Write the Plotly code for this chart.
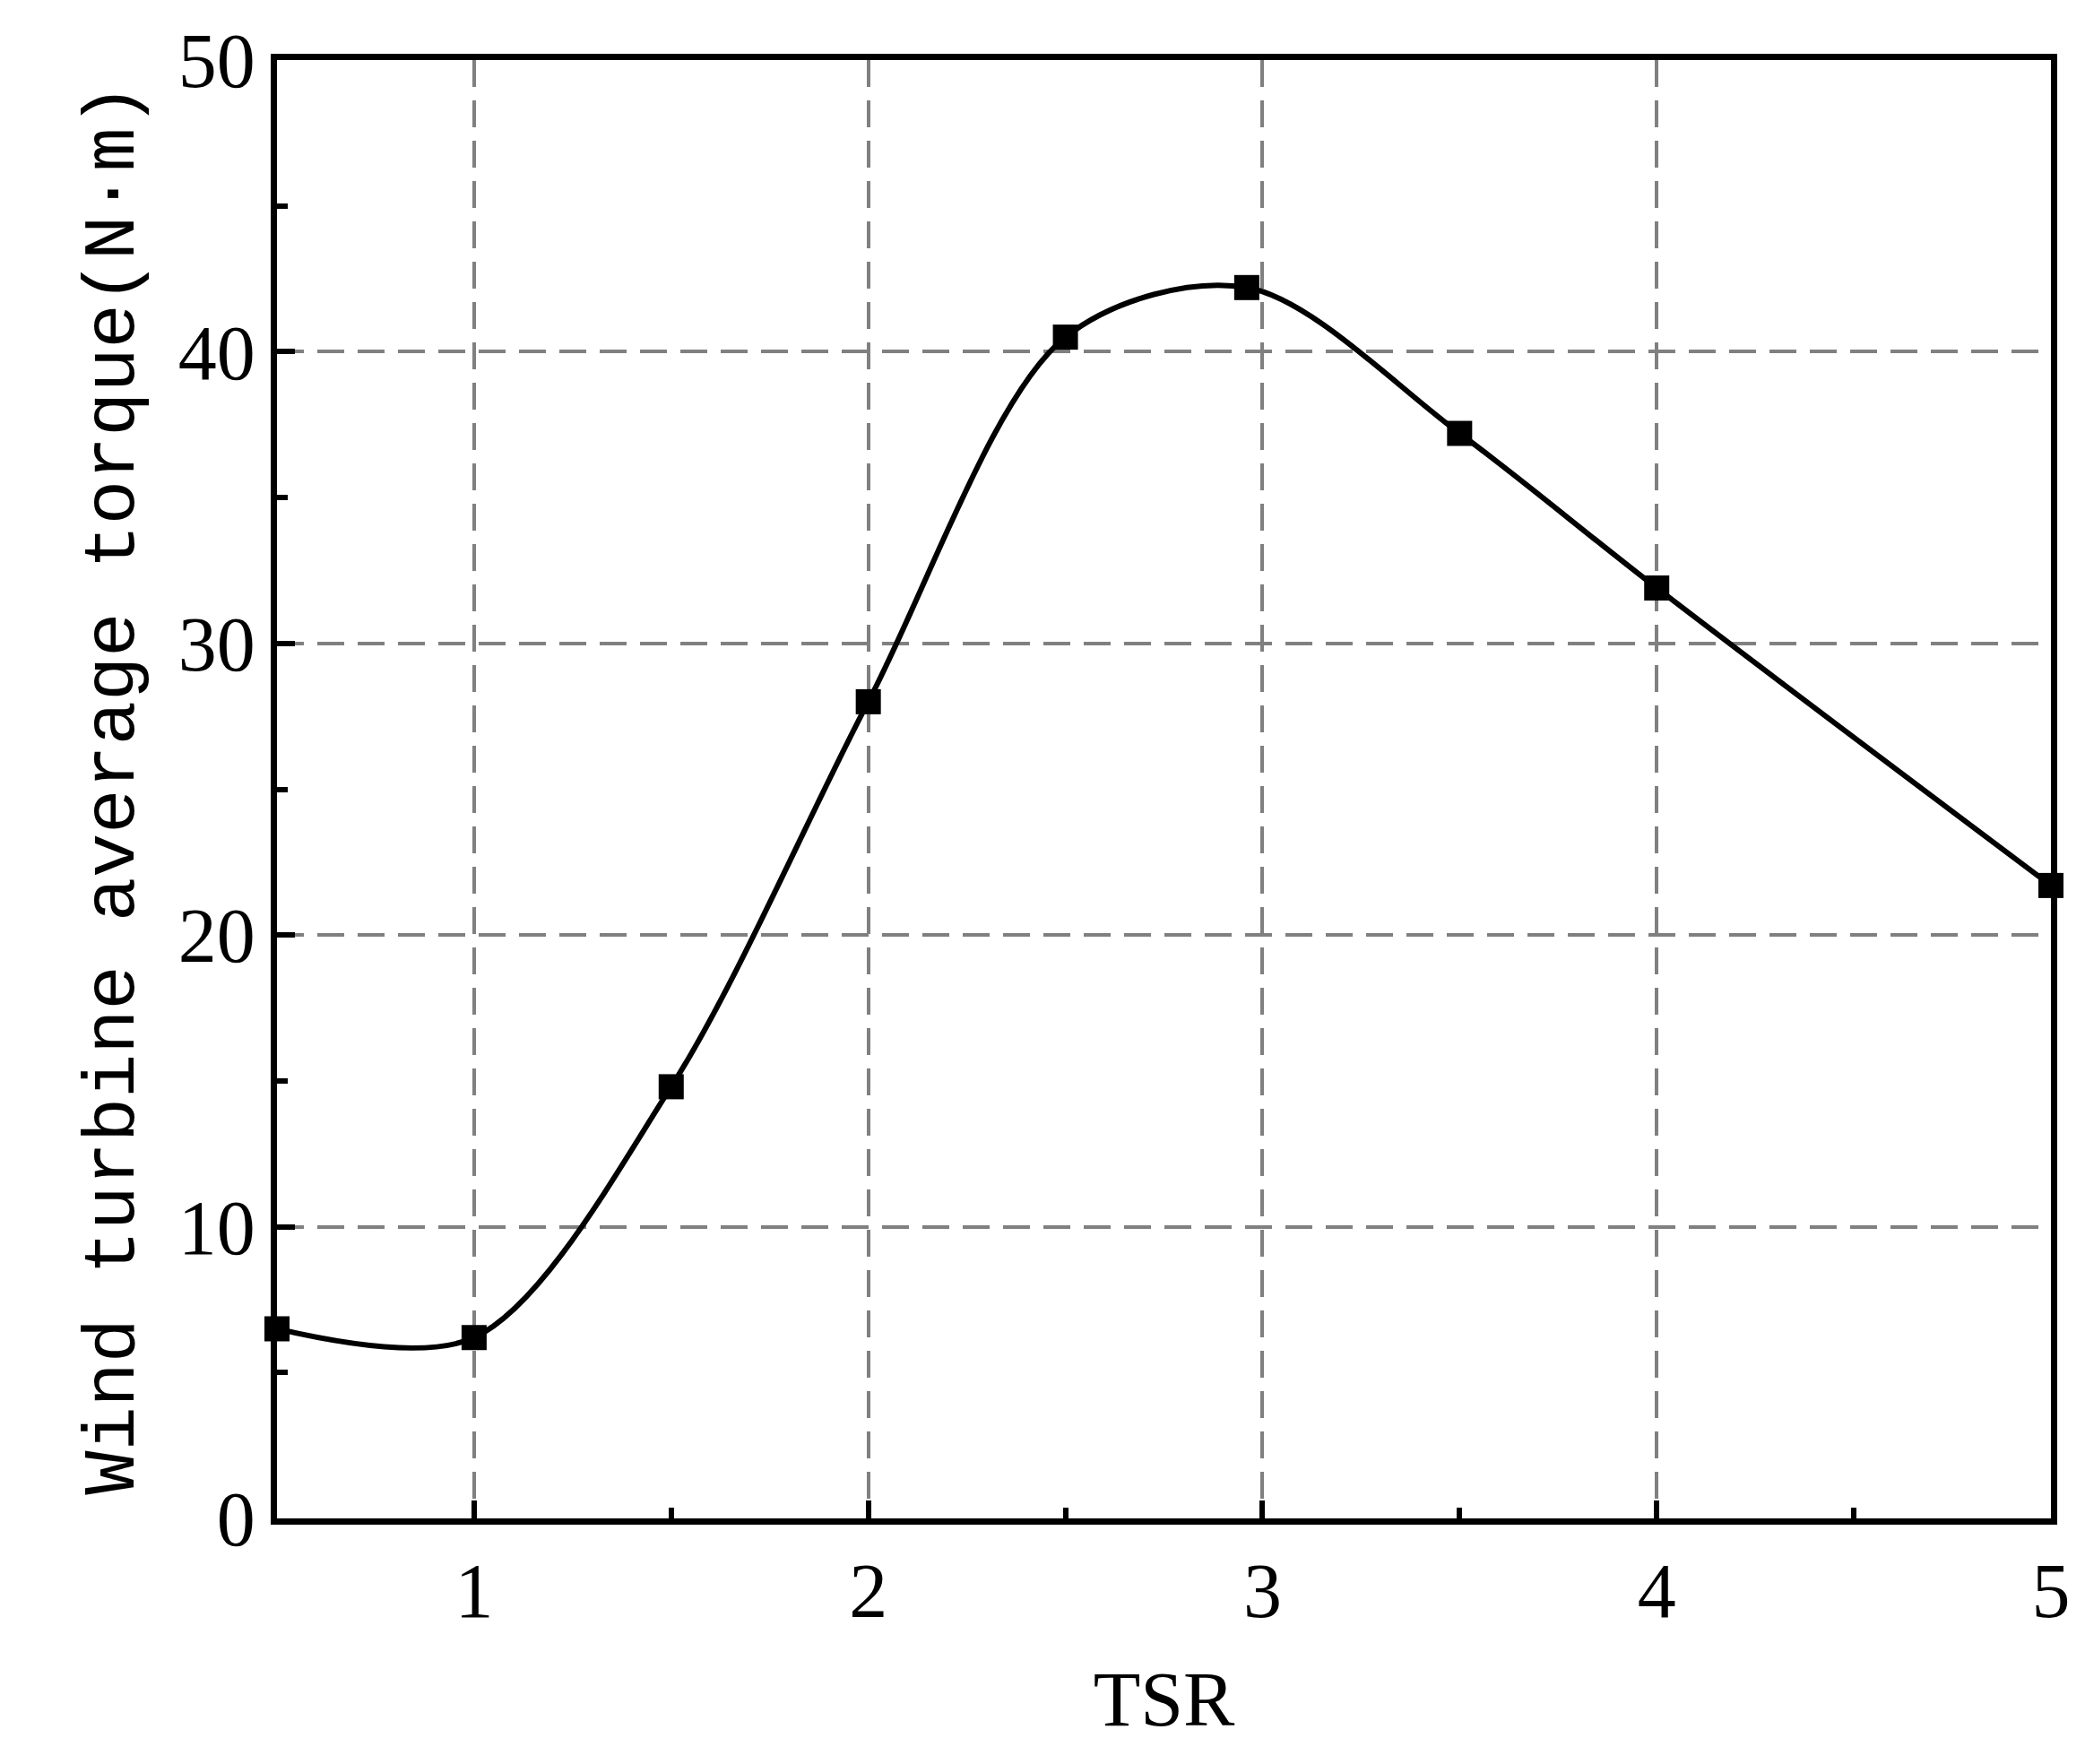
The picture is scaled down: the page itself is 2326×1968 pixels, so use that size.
import plotly.graph_objects as go

tsr = [0.5, 1.0, 1.5, 2.0, 2.5, 2.96, 3.5, 4.0, 5.0]
torque = [6.5, 6.2, 14.8, 28.0, 40.5, 42.2, 37.2, 31.9, 21.7]

fig = go.Figure(go.Scatter(
    x=tsr, y=torque, mode="lines+markers",
    line=dict(color="black", width=6, shape="spline", smoothing=0.9),
    marker=dict(symbol="square", size=28, color="black"),
    cliponaxis=False, showlegend=False))

font = "Liberation Serif"
axis_common = dict(showline=True, linecolor="black", linewidth=7, mirror=True,
                   ticks="inside", ticklen=20, tickwidth=6, tickcolor="black",
                   showgrid=True, gridcolor="#808080", griddash="30px,15px", gridwidth=3.5,
                   zeroline=False, tickfont=dict(family=font, size=86, color="black"))

fig.update_xaxes(range=[0.5, 5], tickvals=[1, 2, 3, 4, 5],
                 minor=dict(tickvals=[1.5, 2.5, 3.5, 4.5], ticks="inside", ticklen=12, tickwidth=6, tickcolor="black", showgrid=False),
                 title=dict(text="TSR", font=dict(family=font, size=86, color="black"), standoff=45),
                 **axis_common)
fig.update_yaxes(range=[0, 50], tickvals=[0, 10, 20, 30, 40, 50],
                 minor=dict(tickvals=[5, 15, 25, 35, 45], ticks="inside", ticklen=12, tickwidth=6, tickcolor="black", showgrid=False),
                 title=dict(text="Wind turbine average torque(N·m)", font=dict(family="Liberation Mono", size=82, color="black"), standoff=25),
                 **axis_common)

fig.update_layout(width=2326, height=1968, plot_bgcolor="white", paper_bgcolor="white",
                  margin=dict(l=301, r=46, t=55, b=282))
fig.write_html("out.html")
